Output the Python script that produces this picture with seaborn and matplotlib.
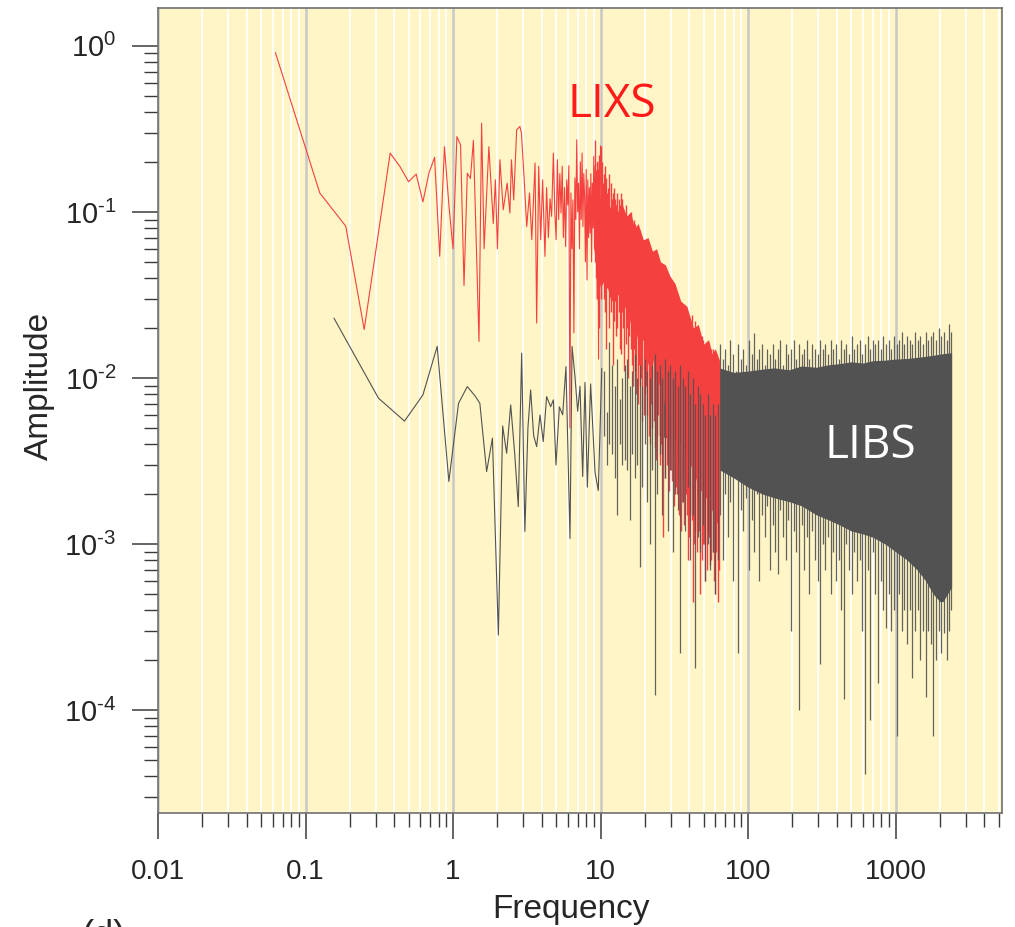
import numpy as np
import pandas as pd
import matplotlib
matplotlib.use("Agg")
import matplotlib.pyplot as plt
import seaborn as sns
from matplotlib.ticker import LogLocator, FuncFormatter, NullFormatter

# ---------------- data ----------------
# LIXS (red) – low-frequency part, drawn as a line
RED_FREQ_LOW = [0.0625, 0.125, 0.1875, 0.25, 0.375, 0.4375, 0.5, 0.5625, 0.625, 0.6875,
                0.75, 0.8125, 0.875, 0.9375, 1.0, 1.0625, 1.125, 1.1875, 1.25, 1.3125,
                1.375, 1.5, 1.5625, 1.625, 1.75, 1.875, 1.9375, 2.0]
RED_AMP_LOW = [0.91, 0.13, 0.082, 0.0196, 0.226, 0.187, 0.152, 0.169, 0.115, 0.172,
               0.213, 0.054, 0.247, 0.11, 0.060, 0.284, 0.253, 0.036, 0.171, 0.159,
               0.27, 0.0166, 0.342, 0.060, 0.247, 0.085, 0.156, 0.060]
RED_FREQ_MID = [2.08, 2.19, 2.33, 2.43, 2.49, 2.58, 2.70, 2.84, 2.91, 3.03,
                3.16, 3.30, 3.42, 3.60, 3.69, 3.81, 3.93, 4.05, 4.20, 4.31,
                4.43, 4.55, 4.66, 4.79, 4.90,
                5.0, 5.1, 5.2, 5.3, 5.4, 5.5, 5.6, 5.7, 5.8, 5.9,
                6.0, 6.1, 6.2, 6.3, 6.4, 6.5, 6.6, 6.7, 6.8, 6.9,
                7.0, 7.1, 7.2, 7.3, 7.4, 7.5, 7.6, 7.7, 7.8, 7.9,
                8.0, 8.1, 8.2, 8.3, 8.4, 8.5, 8.6, 8.7, 8.8, 8.9,
                9.0, 9.1, 9.2, 9.3, 9.4, 9.5, 9.6, 9.7, 9.8, 9.9, 10.0]
RED_AMP_MID = [0.206, 0.103, 0.149, 0.0985, 0.206, 0.118, 0.312, 0.327, 0.298, 0.163,
               0.0816, 0.130, 0.068, 0.197, 0.0214, 0.188, 0.068, 0.156, 0.054, 0.14,
               0.07, 0.12, 0.094, 0.226, 0.10,
               0.068, 0.206, 0.09, 0.17, 0.0985, 0.188, 0.07, 0.14, 0.0619, 0.156,
               0.11, 0.19, 0.005, 0.13, 0.06, 0.118, 0.0187, 0.16, 0.09, 0.272,
               0.10, 0.149, 0.06, 0.2, 0.09, 0.226, 0.0816, 0.17, 0.124, 0.05,
               0.18, 0.0389, 0.156, 0.07, 0.14, 0.0745, 0.17, 0.05, 0.149, 0.08,
               0.216, 0.06, 0.19, 0.0565, 0.17, 0.03, 0.2, 0.013, 0.18, 0.05, 0.25]
# LIXS – dense part: per-spike amplitude range
RED_SPIKE_FREQ = [9.2, 9.5, 9.8, 10.2, 10.5, 10.9, 11.3, 11.7, 12.1, 12.6,
                  13.0, 13.5, 14.0, 14.5, 15.1, 15.7, 16.3, 16.9, 17.5, 18.2,
                  18.9, 19.6, 20.4, 21.2, 22.0, 22.9, 23.8, 24.7, 25.7, 26.7,
                  27.7, 28.8, 29.9, 31.1, 32.3, 33.6, 34.9, 36.3, 37.7, 39.2,
                  40.7, 42.3, 44.0, 45.7, 47.5, 49.4, 51.3, 53.3, 55.4, 57.6,
                  59.9, 62.2, 63.8]
RED_SPIKE_LO = [0.05, 0.03, 0.02, 0.04, 0.03, 0.015, 0.04, 0.025, 0.012, 0.03,
                0.02, 0.015, 0.025, 0.011, 0.02, 0.018, 0.012, 0.015, 0.008, 0.012,
                0.010, 0.006, 0.009, 0.0045, 0.007, 0.0055, 0.0032, 0.006, 0.004, 0.0011,
                0.0045, 0.0035, 0.0028, 0.0035, 0.0022, 0.003, 0.0012, 0.0025, 0.0020, 0.0008,
                0.0015, 0.00045, 0.0012, 0.0018, 0.0005, 0.0010, 0.0006, 0.0012, 0.00075, 0.0009,
                0.0005, 0.00045, 0.0007]
RED_SPIKE_HI = [0.27, 0.2, 0.22, 0.2, 0.17, 0.16, 0.14, 0.15, 0.13, 0.12,
                0.13, 0.11, 0.12, 0.10, 0.095, 0.09, 0.085, 0.09, 0.075, 0.07,
                0.07, 0.065, 0.06, 0.058, 0.055, 0.05, 0.05, 0.045, 0.045, 0.04,
                0.04, 0.035, 0.038, 0.03, 0.03, 0.027, 0.028, 0.024, 0.022, 0.022,
                0.021, 0.019, 0.022, 0.02, 0.016, 0.017, 0.015, 0.016, 0.014, 0.015,
                0.0135, 0.013, 0.012]
RED_SPIKE2_FREQ = [9.35, 9.65, 10.0, 10.35, 10.7, 11.1, 11.5, 11.9, 12.35, 12.8,
                   13.25, 13.75, 14.25, 14.8, 15.4, 16.0, 16.6, 17.2, 17.85, 18.55,
                   19.25, 20.0, 20.8, 21.6, 22.45, 23.35, 24.25, 25.2, 26.2, 27.2,
                   28.25, 29.35, 30.5, 31.7, 32.95, 34.25, 35.6, 37.0, 38.45, 39.95,
                   41.5, 43.15, 44.85, 46.6, 48.45, 50.35, 52.3, 54.35, 56.5, 58.75,
                   61.0, 63.0]
RED_SPIKE2_LO = [0.04, 0.06, 0.03, 0.05, 0.025, 0.035, 0.02, 0.03, 0.022, 0.018,
                 0.025, 0.014, 0.02, 0.016, 0.01, 0.015, 0.009, 0.011, 0.007, 0.009,
                 0.0055, 0.008, 0.006, 0.004, 0.005, 0.0038, 0.0045, 0.003, 0.0035, 0.0025,
                 0.003, 0.0021, 0.0024, 0.0017, 0.002, 0.0015, 0.0018, 0.0013, 0.0015, 0.0011,
                 0.0014, 0.001, 0.0009, 0.0012, 0.0008, 0.001, 0.0007, 0.0011, 0.0008, 0.0006,
                 0.0009, 0.0008]
RED_SPIKE2_HI = [0.18, 0.16, 0.25, 0.15, 0.19, 0.13, 0.17, 0.12, 0.14, 0.11,
                 0.12, 0.13, 0.10, 0.11, 0.085, 0.10, 0.08, 0.085, 0.07, 0.075,
                 0.065, 0.06, 0.062, 0.052, 0.055, 0.048, 0.046, 0.042, 0.043, 0.036,
                 0.04, 0.033, 0.034, 0.029, 0.03, 0.025, 0.026, 0.022, 0.023, 0.02,
                 0.024, 0.018, 0.019, 0.017, 0.018, 0.015, 0.016, 0.014, 0.015, 0.013,
                 0.014, 0.012]
# LIXS – solid core of the dense part
RED_BAND_FREQ = [9.0, 9.6, 10, 10.8, 11.5, 12.3, 13.2, 14.1, 15, 16,
                 17, 18, 19.5, 21, 22.5, 24, 25.5, 27.5, 29.6, 32,
                 35, 38.5, 42.6, 46, 50, 54, 57, 60, 64]
RED_BAND_UPPER = [0.10, 0.13, 0.12, 0.14, 0.105, 0.12, 0.10, 0.11, 0.094, 0.10,
                  0.08, 0.085, 0.068, 0.07, 0.058, 0.06, 0.05, 0.048, 0.041, 0.037,
                  0.029, 0.027, 0.020, 0.021, 0.016, 0.017, 0.014, 0.015, 0.0128]
RED_BAND_LOWER = [0.06, 0.04, 0.035, 0.04, 0.031, 0.028, 0.032, 0.026, 0.027, 0.021,
                  0.022, 0.016, 0.017, 0.012, 0.013, 0.0095, 0.009, 0.0065, 0.0056, 0.0048,
                  0.0042, 0.0032, 0.0028, 0.0022, 0.002, 0.0018, 0.0016, 0.0013, 0.0014]

# LIBS (black) – low-frequency part, drawn as a line
BLK_FREQ_LOW = [0.156, 0.3125, 0.469, 0.625, 0.781, 0.9375, 1.09, 1.25, 1.41, 1.52,
                1.69, 1.85, 2.03, 2.17, 2.31, 2.46, 2.62, 2.77, 2.92, 3.07,
                3.22, 3.36, 3.52, 3.69, 3.89, 4.09, 4.31, 4.59, 4.79, 4.99,
                5.26, 5.54, 5.83, 6.21, 6.41, 6.71, 7.0, 7.26, 7.57, 7.85,
                8.14, 8.57, 9.18, 9.66, 10.2]
BLK_AMP_LOW = [0.0229, 0.00755, 0.0055, 0.0079, 0.0155, 0.00238, 0.00704, 0.00887, 0.0078, 0.00704,
               0.00273, 0.00434, 0.000283, 0.00514, 0.00352, 0.00688, 0.0035, 0.00168, 0.0141, 0.00119,
               0.005, 0.00847, 0.0045, 0.00386, 0.00598, 0.00414, 0.00772, 0.00671, 0.00738, 0.00299,
               0.0067, 0.006, 0.0117, 0.00108, 0.0155, 0.0102, 0.0063, 0.0089, 0.00255, 0.0094,
               0.0022, 0.0092, 0.0027, 0.0021, 0.0114]
# LIBS – 10..64 Hz: per-spike amplitude range
BLK_MID_FREQ = [10.5, 11.0, 11.5, 12.0, 12.5, 13.0, 13.5, 14.0, 14.6, 15.2,
                15.8, 16.4, 17.1, 17.8, 18.5, 19.2, 20.0, 20.8, 21.6, 22.5,
                23.4, 24.3, 25.3, 26.3, 27.4, 28.5, 29.6, 30.8, 32.0, 33.3,
                34.6, 36.0, 37.5, 39.0, 40.5, 42.1, 43.8, 45.6, 47.4, 49.3,
                51.3, 53.3, 55.5, 57.7, 60.0, 62.4]
BLK_MID_HI = [0.011, 0.0062, 0.0164, 0.012, 0.009, 0.013, 0.0075, 0.010, 0.012, 0.013,
              0.009, 0.011, 0.014, 0.010, 0.012, 0.009, 0.013, 0.011, 0.010, 0.012,
              0.014, 0.011, 0.012, 0.010, 0.013, 0.011, 0.012, 0.010, 0.011, 0.009,
              0.012, 0.010, 0.009, 0.011, 0.008, 0.010, 0.007, 0.009, 0.008, 0.007,
              0.006, 0.008, 0.006, 0.007, 0.006, 0.007]
BLK_MID_LO = [0.0045, 0.003, 0.004, 0.0035, 0.0025, 0.0015, 0.004, 0.003, 0.0032, 0.0028,
              0.0014, 0.0035, 0.0025, 0.003, 0.00073, 0.0022, 0.004, 0.0018, 0.001, 0.0028,
              0.000123, 0.002, 0.0035, 0.0015, 0.0025, 0.0012, 0.0028, 0.0009, 0.002, 0.0016,
              0.00022, 0.0018, 0.0012, 0.0022, 0.0008, 0.0015, 0.00018, 0.0011, 0.0009, 0.0013,
              0.0006, 0.001, 0.0007, 0.0009, 0.0005, 0.0008]
# LIBS – 64..2400 Hz: per-spike amplitude range
BLK_HF_FREQ = [65, 68, 70, 73, 76, 79, 83, 86, 90, 93,
               97, 101, 106, 110, 115, 119, 124, 130, 135, 141,
               147, 153, 159, 166, 173, 180, 188, 196, 204, 213,
               222, 231, 241, 251, 261, 272, 284, 296, 308, 321,
               335, 349, 363, 379, 395, 411, 428, 446, 465, 485,
               505, 526, 548, 571, 595, 620, 646, 673, 702, 731,
               762, 794, 827, 862, 898, 936, 975, 1016, 1059, 1103,
               1149, 1198, 1248, 1300, 1355, 1412, 1471, 1533, 1597, 1664,
               1734, 1807, 1883, 1962, 2044, 2130, 2219, 2312, 2390]
BLK_HF_HI = [0.016, 0.013, 0.015, 0.012, 0.017, 0.014, 0.011, 0.016, 0.013, 0.015,
             0.012, 0.017, 0.014, 0.0186, 0.013, 0.015, 0.016, 0.012, 0.015, 0.014,
             0.016, 0.013, 0.015, 0.017, 0.012, 0.016, 0.014, 0.015, 0.017, 0.013,
             0.016, 0.014, 0.015, 0.017, 0.013, 0.016, 0.015, 0.014, 0.017, 0.015,
             0.016, 0.014, 0.017, 0.015, 0.016, 0.013, 0.017, 0.015, 0.016, 0.014,
             0.018, 0.015, 0.016, 0.017, 0.014, 0.016, 0.018, 0.015, 0.017, 0.016,
             0.017, 0.015, 0.018, 0.016, 0.017, 0.015, 0.018, 0.016, 0.017, 0.019,
             0.016, 0.018, 0.017, 0.016, 0.019, 0.017, 0.018, 0.016, 0.019, 0.017,
             0.018, 0.019, 0.017, 0.020, 0.018, 0.019, 0.017, 0.021, 0.019]
BLK_HF_LO = [0.0015, 0.0008, 0.002, 0.0011, 0.0018, 0.0006, 0.0025, 0.00022, 0.0016, 0.0012,
             0.0019, 0.0007, 0.0014, 0.0009, 0.002, 0.0006, 0.0015, 0.0011, 0.0017, 0.0007,
             0.0013, 0.0009, 0.00066, 0.0016, 0.0011, 0.0008, 0.0014, 0.0003, 0.0012, 0.0009,
             0.0001, 0.0013, 0.0007, 0.0011, 0.0005, 0.0012, 0.0008, 0.0006, 0.00019, 0.001,
             0.0007, 0.0011, 0.0005, 0.0009, 0.0006, 0.0008, 0.0004, 0.000117, 0.001, 0.0007,
             0.0005, 0.0009, 0.0006, 0.0008, 0.0003, 0.000041, 0.0007, 0.000087, 0.0009, 0.0005,
             0.000145, 0.0006, 0.0004, 0.00031, 0.0005, 0.0003, 0.0004, 0.00007, 0.0005, 0.0003,
             0.0004, 0.00025, 0.0004, 0.000155, 0.0003, 0.0004, 0.0002, 0.0003, 0.00012, 0.0003,
             0.00025, 0.00007, 0.0002, 0.0003, 0.00022, 0.00029, 0.0002, 0.0003, 0.0004]
# LIBS – solid core of the dense part
BLK_BAND_FREQ = [25, 32, 40, 50, 64, 80, 100, 125, 150, 190,
                 230, 290, 350, 420, 500, 600, 700, 850, 1000, 1200,
                 1400, 1600, 1800, 2000, 2100, 2250, 2400]
BLK_BAND_UPPER = [0.010, 0.0105, 0.011, 0.0112, 0.0115, 0.0108, 0.011, 0.0113, 0.0115, 0.0112,
                  0.0118, 0.0116, 0.012, 0.0122, 0.0125, 0.0123, 0.0127, 0.0128, 0.013, 0.0131,
                  0.0133, 0.0135, 0.0137, 0.0139, 0.014, 0.0141, 0.0142]
BLK_BAND_LOWER = [0.0045, 0.0042, 0.004, 0.0033, 0.0028, 0.0025, 0.0022, 0.002, 0.0019, 0.0018,
                  0.0017, 0.0015, 0.0014, 0.0013, 0.0012, 0.00115, 0.0011, 0.001, 0.0009, 0.0008,
                  0.0007, 0.0006, 0.0005, 0.00045, 0.00045, 0.0005, 0.00055]

X_TICKS = [0.01, 0.1, 1, 10, 100, 1000]

# ---------------- styling ----------------
sns.set_style("ticks")
plt.rcParams['font.family'] = ['Liberation Sans', 'DejaVu Sans']
plt.rcParams['mathtext.fontset'] = 'custom'
plt.rcParams['mathtext.rm'] = 'Liberation Sans'

# exponent written with a plain hyphen if mathtext supports \text
try:
    from matplotlib.mathtext import MathTextParser
    MathTextParser('agg').parse(r'$\mathdefault{10^{\text{-1}}}$', dpi=100)
    USE_TEXT = True
except Exception:
    USE_TEXT = False


def ytick_label(v, _):
    n = int(round(np.log10(v)))
    if USE_TEXT:
        return r'$\mathdefault{10^{\text{%d}}}$' % n
    return r'$\mathdefault{10^{%d}}$' % n


BG = '#FFF5C6'
RED = '#F54040'
BLK = '#525252'

fig = plt.figure(figsize=(10.15, 9.27), dpi=100)
ax = fig.add_axes([158 / 1015, 1 - 813 / 927, (1002 - 158) / 1015, (813 - 8) / 927])
ax.set_facecolor(BG)
ax.set_xscale('log')
ax.set_yscale('log')

red = pd.DataFrame({'freq': RED_FREQ_LOW + RED_FREQ_MID,
                    'amp': RED_AMP_LOW + RED_AMP_MID})
blk = pd.DataFrame({'freq': BLK_FREQ_LOW, 'amp': BLK_AMP_LOW})

# LIBS
ax.fill_between(BLK_BAND_FREQ, BLK_BAND_LOWER, BLK_BAND_UPPER, color=BLK, lw=0, zorder=2)
sns.lineplot(data=blk, x='freq', y='amp', ax=ax, color=BLK, lw=0.8,
             estimator=None, sort=False, zorder=2.1)
ax.vlines(BLK_HF_FREQ, BLK_HF_LO, BLK_HF_HI, color=BLK, lw=0.9, alpha=0.9, zorder=2.2)
# LIXS
ax.fill_between(RED_BAND_FREQ, RED_BAND_LOWER, RED_BAND_UPPER, color=RED, lw=0, zorder=3)
sns.lineplot(data=red, x='freq', y='amp', ax=ax, color=RED, lw=0.8,
             estimator=None, sort=False, zorder=3.1)
ax.vlines(RED_SPIKE_FREQ, RED_SPIKE_LO, RED_SPIKE_HI, color=RED, lw=1.0, zorder=3.2)
ax.vlines(RED_SPIKE2_FREQ, RED_SPIKE2_LO, RED_SPIKE2_HI, color=RED, lw=1.0, zorder=3.2)
# LIBS lines crossing the red region
ax.vlines(BLK_MID_FREQ, BLK_MID_LO, BLK_MID_HI, color=BLK, lw=0.9, alpha=0.9, zorder=3.3)

ax.set_xlim(0.01, 5270)
ax.set_ylim(2.4e-5, 1.69)

# ticks
ax.set_xticks(X_TICKS)
ax.xaxis.set_minor_locator(LogLocator(base=10, subs=np.arange(2, 10), numticks=40))
ax.xaxis.set_major_formatter(FuncFormatter(lambda v, _: f'{v:g}'))
ax.xaxis.set_minor_formatter(NullFormatter())
ax.yaxis.set_major_locator(LogLocator(base=10, numticks=20))
ax.yaxis.set_minor_locator(LogLocator(base=10, subs=np.arange(2, 10), numticks=40))
ax.yaxis.set_major_formatter(FuncFormatter(ytick_label))
ax.yaxis.set_minor_formatter(NullFormatter())

ax.tick_params(axis='both', which='major', direction='out', length=19, width=1.1,
               color='#3A3A3A')
ax.tick_params(axis='both', which='minor', direction='out', length=9.8, width=1.0,
               color='#3A3A3A')
ax.tick_params(axis='x', which='major', labelsize=20, pad=14)
ax.tick_params(axis='y', which='major', labelsize=21, pad=11)
ax.tick_params(top=False, right=False, which='both')

# grid: white minor, grey major vertical lines
ax.set_axisbelow(True)
ax.grid(which='minor', axis='x', color='white', lw=1.3)
ax.grid(which='major', axis='x', color='#C8C8C8', lw=1.8)
ax.grid(which='both', axis='y', visible=False)

for s in ax.spines.values():
    s.set_color('#707070')
    s.set_linewidth(1.2)
    s.set_visible(True)

# labels
ax.set_xlabel('Frequency', fontsize=24)
ax.xaxis.label.set_verticalalignment('baseline')
ax.xaxis.set_label_coords((571 - 158) / 844, (813 - 918) / 805)
ax.set_ylabel('Amplitude', fontsize=24)
ax.yaxis.label.set_verticalalignment('baseline')
ax.yaxis.set_label_coords((48 - 158) / 844, (813 - 386) / 805)

ax.text(12, 0.373, 'LIXS', color='#FF1A1A', fontsize=33, ha='center', va='baseline',
        family=['Open Sans', 'DejaVu Sans'], zorder=5)
ax.text(671, 0.0033, 'LIBS', color='white', fontsize=33, ha='center', va='baseline',
        family=['Open Sans', 'DejaVu Sans'], zorder=5)

fig.text(82 / 1015, 1 - 919 / 927, '(d)', fontsize=26, ha='left', va='top')

fig.savefig('out.png', dpi=100)
